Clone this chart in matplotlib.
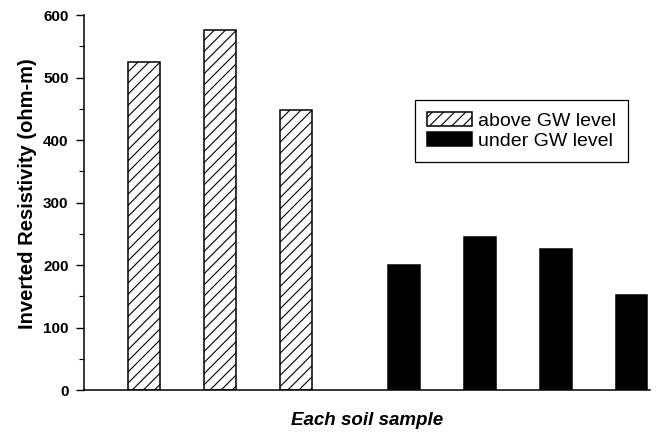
import matplotlib
matplotlib.use("Agg")
import matplotlib.pyplot as plt
from matplotlib.ticker import MultipleLocator

# values
above_pos = [1.0, 2.0, 3.0]
above_vals = [525, 576, 449]
under_pos = [4.42, 5.42, 6.42, 7.42]
under_vals = [200, 245, 226, 152]

plt.rcParams["font.family"] = ["Liberation Sans", "DejaVu Sans"]
plt.rcParams["hatch.linewidth"] = 0.8

fig = plt.figure(figsize=(6.61, 4.34), dpi=100)
ax = fig.add_axes([0.127, 0.101, 0.856, 0.864])

ax.bar(above_pos, above_vals, width=0.42, facecolor="white", edgecolor="black",
       linewidth=1.1, hatch="///", label="above GW level")
ax.bar(under_pos, under_vals, width=0.42, facecolor="black", edgecolor="black",
       linewidth=1.1, label="under GW level")

ax.set_xlim(0.21, 7.66)
ax.set_ylim(0, 600)
ax.yaxis.set_major_locator(MultipleLocator(100))
ax.yaxis.set_minor_locator(MultipleLocator(50))
ax.tick_params(axis="y", which="major", length=6, width=1.0, labelsize=11, pad=5)
ax.tick_params(axis="y", which="minor", length=3.5, width=0.8)
ax.set_xticks([])
for lbl in ax.get_yticklabels():
    lbl.set_fontweight("bold")

for side in ["top", "right"]:
    ax.spines[side].set_visible(False)
ax.spines["left"].set_linewidth(1.1)
ax.spines["bottom"].set_linewidth(1.1)

ax.set_ylabel("Inverted Resistivity (ohm-m)", fontsize=14.5, fontweight="bold")
ax.yaxis.set_label_coords(-0.083, 0.525)
ax.set_xlabel("Each soil sample", fontsize=13.5, fontweight="bold", style="italic", labelpad=16)

leg = ax.legend(loc="upper left", bbox_to_anchor=(0.585, 0.773), fontsize=14,
                frameon=True, fancybox=False, edgecolor="black", framealpha=1,
                handlelength=2.3, handleheight=0.72, handletextpad=0.3,
                borderpad=0.62, labelspacing=0.1, borderaxespad=0)
leg.get_frame().set_linewidth(0.9)

fig.savefig("out.png", dpi=100)
